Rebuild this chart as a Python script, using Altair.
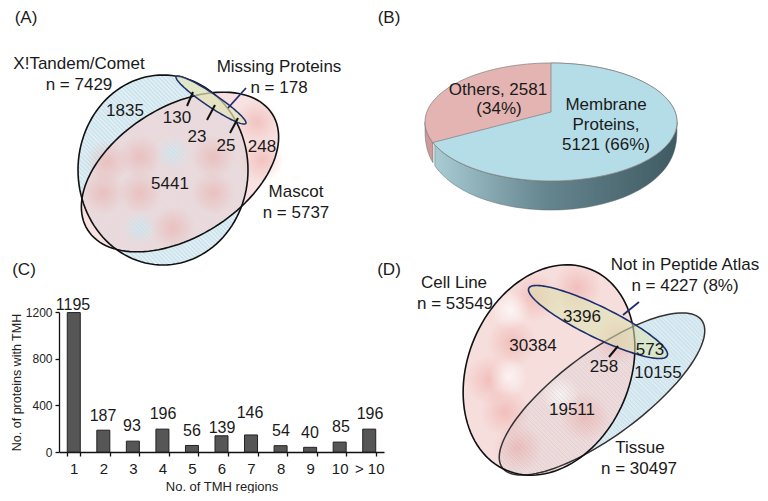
import numpy as np
import pandas as pd
import altair as alt

# ---- data -----
tmh_regions = ["1", "2", "3", "4", "5", "6", "7", "8", "9", "10", "> 10"]
tmh_counts = [1195, 187, 93, 196, 56, 139, 146, 54, 40, 85, 196]
tmh_label_y = [305, 416, 426, 414, 431, 428, 413, 431, 433, 427, 414]
tmh_label_x = [73, 103, 132, 163, 192, 222, 250, 281, 310, 341, 370]

big_text = ["(A)", "(B)", "(C)", "(D)",
            "X!Tandem/Comet", "n = 7429", "Missing Proteins", "n = 178",
            "Mascot", "n = 5737",
            "Cell Line", "n = 53549", "Not in Peptide Atlas", "n = 4227 (8%)",
            "Tissue", "n = 30497",
            "1835", "130", "23", "25", "248", "5441",
            "3396", "30384", "573", "258", "10155", "19511",
            "Others, 2581", "(34%)", "Membrane", "Proteins,", "5121 (66%)"]
big_x = [26, 389, 24, 389,
         79, 79, 279, 279, 296, 296,
         454, 455, 685, 685, 640, 639,
         125, 177, 197, 226, 262, 170,
         582, 533, 650, 604, 658, 572,
         498, 499, 606, 606, 606]
big_y = [18, 18, 270, 270,
         64, 85, 67, 88, 192, 213,
         283, 304, 265, 286, 448, 469,
         111, 118, 137, 146, 147, 184,
         317, 346, 350, 367, 373, 410,
         90, 109, 105, 125, 145]

# ---- geometry helpers -----
W, H = 752, 485


def sx():
    return alt.Scale(domain=[8, 760], range=[0, W])


def sy():
    return alt.Scale(domain=[8, 493], range=[0, H])


def ellipse(cx, cy, a, b, deg, n=120):
    t = np.linspace(0, 2 * np.pi, n, endpoint=False)
    r = np.radians(deg)
    x = cx + a * np.cos(t) * np.cos(r) - b * np.sin(t) * np.sin(r)
    y = cy + a * np.cos(t) * np.sin(r) + b * np.sin(t) * np.cos(r)
    return pd.DataFrame({"x": x, "y": y, "i": np.arange(n)})


def shape(df, fill=None, stroke=None, sw=1.5, fo=1.0, interp="linear-closed"):
    kw = dict(interpolate=interp, strokeWidth=sw, fillOpacity=fo)
    if fill is not None:
        kw["fill"] = fill
    kw["stroke"] = stroke if stroke is not None else "transparent"
    return alt.Chart(df).mark_line(**kw).encode(
        x=alt.X("x:Q", scale=sx(), axis=None),
        y=alt.Y("y:Q", scale=sy(), axis=None),
        order="i:Q",
    )


def hatch(cx, cy, a, b, deg, gap=3.0, color="#a9d0dc", sw=0.8, op=0.6):
    r = np.radians(deg)
    ca, sa = np.cos(r), np.sin(r)
    d = np.array([1, 1]) / np.sqrt(2)
    nrm = np.array([1, -1]) / np.sqrt(2)
    rows = []
    for c in np.arange(-max(a, b), max(a, b), gap):
        p = c * nrm
        pu, pv = p[0] * ca + p[1] * sa, -p[0] * sa + p[1] * ca
        du, dv = d[0] * ca + d[1] * sa, -d[0] * sa + d[1] * ca
        A = du**2 / a**2 + dv**2 / b**2
        B = 2 * (pu * du / a**2 + pv * dv / b**2)
        C = pu**2 / a**2 + pv**2 / b**2 - 1
        D = B**2 - 4 * A * C
        if D <= 0:
            continue
        t1, t2 = (-B - np.sqrt(D)) / (2 * A), (-B + np.sqrt(D)) / (2 * A)
        q1, q2 = p + t1 * d, p + t2 * d
        rows.append(dict(x=cx + q1[0], y=cy + q1[1], x2=cx + q2[0], y2=cy + q2[1]))
    return segs(rows, color, sw, op)


def segs(rows, color, sw, op=1.0):
    return alt.Chart(pd.DataFrame(rows)).mark_rule(
        color=color, strokeWidth=sw, opacity=op
    ).encode(
        x=alt.X("x:Q", scale=sx(), axis=None),
        y=alt.Y("y:Q", scale=sy(), axis=None),
        x2="x2:Q", y2="y2:Q",
    )


def blobs(pts, rgb, radius=20, peak=0.75):
    grad = alt.RadialGradient(
        gradient="radial",
        stops=[
            alt.GradientStop(offset=0, color=f"rgba({rgb},{peak})"),
            alt.GradientStop(offset=1, color=f"rgba({rgb},0)"),
        ],
    )
    df = pd.DataFrame(pts, columns=["x", "y"])
    return alt.Chart(df).mark_point(
        filled=True, fill=grad, opacity=1, size=float(np.pi * radius**2), shape="circle", strokeWidth=0
    ).encode(
        x=alt.X("x:Q", scale=sx(), axis=None),
        y=alt.Y("y:Q", scale=sy(), axis=None),
    )


def texts(labels, xs, ys, size, color="#1a1a1a"):
    df = pd.DataFrame({"t": labels, "x": xs, "y": ys})
    return alt.Chart(df).mark_text(
        font="Liberation Sans", fontSize=size, color=color, align="center", baseline="middle"
    ).encode(
        x=alt.X("x:Q", scale=sx(), axis=None),
        y=alt.Y("y:Q", scale=sy(), axis=None),
        text="t:N",
    )


layers = []

# ---- panel A -----
X_E = (163, 170, 85, 95, 0)
M_E = (180, 172, 109, 65, -32)
P_E = (211, 100, 42, 6.5, 34)
layers += [
    shape(ellipse(*X_E), fill="#c8e4ee"),
    hatch(*X_E, color="#ffffff", sw=1.2, op=0.85),
    shape(ellipse(*M_E), fill="#f4d6d5", fo=0.72),
    blobs([(107, 162), (140, 157), (213, 157), (103, 193), (140, 193), (213, 193),
           (173, 228), (257, 122), (262, 160)], "236,165,160", radius=25, peak=0.5),
    blobs([(173, 153), (140, 228)], "205,232,240", radius=20, peak=0.85),
    hatch(*X_E, color="#b9bfcc", op=0.35),
    shape(ellipse(*X_E), stroke="#111111", sw=1.6),
    shape(ellipse(*M_E), stroke="#111111", sw=1.6),
    shape(ellipse(*P_E), fill="#e4e6b6", fo=0.7, stroke="#1f2f6e", sw=1.5),
    segs([dict(x=228, y=108, x2=246, y2=88)], "#1f2f6e", 1.8),
    segs([dict(x=193, y=92, x2=187, y2=106), dict(x=215, y=105, x2=207, y2=120),
          dict(x=238, y=118, x2=230, y2=133)], "#111111", 2),
]

# ---- panel B -----
PC, PY, PA, PB, DEPTH = 551, 122, 126, 59, 29
t_all = np.linspace(0, 2 * np.pi, 160, endpoint=False)
pie_full = pd.DataFrame({"x": PC + PA * np.cos(t_all), "y": PY + PB * np.sin(t_all), "i": np.arange(160)})
xs_side = PC + PA * np.cos(np.linspace(np.pi, 0, 80))
side = pd.DataFrame({"x": xs_side, "y": PY + PB * np.sqrt(np.clip(1 - ((xs_side - PC) / PA) ** 2, 0, 1))})
side["y2"] = side["y"] + DEPTH * np.sqrt(np.clip(1 - ((side["x"] - PC) / PA) ** 2, 0, 1)) ** 0.35
split = 433.0
side_grad = alt.LinearGradient(
    gradient="linear", x1=0, x2=1, y1=0, y2=0,
    stops=[
        alt.GradientStop(offset=0, color="#a9ccd4"),
        alt.GradientStop(offset=0.45, color="#668690"),
        alt.GradientStop(offset=1, color="#3f5a62"),
    ],
)


def side_area(df, fill):
    return alt.Chart(df).mark_area(fill=fill, stroke="#59696d", strokeWidth=0.5).encode(
        x=alt.X("x:Q", scale=sx(), axis=None),
        y=alt.Y("y:Q", scale=sy(), axis=None),
        y2="y2:Q",
    )


t_end = np.pi - np.arctan2(20.5 / PB, 118 / PA)
t_w = np.linspace(-np.pi / 2, t_end, 90)
wedge = pd.DataFrame({"x": np.r_[PC, PC + PA * np.cos(t_w)], "y": np.r_[112, PY + PB * np.sin(t_w)]})
wedge["i"] = np.arange(len(wedge))
layers += [
    side_area(side[side.x <= split + 1], "#cf9a9a"),
    side_area(side[side.x >= split], side_grad),
    shape(pie_full, fill="#e3b4b2", stroke="#7d7d7d", sw=0.7),
    shape(wedge, fill="#b5dde7", stroke="#7d7d7d", sw=0.7),
]

# ---- panel D -----
C_E = (549, 370, 109, 81, 113)
T_E = (602, 394, 124, 42, -36.5)
N_E = (598, 322, 77, 15.5, 26)
layers += [
    shape(ellipse(*T_E), fill="#c8e4ee"),
    hatch(*T_E, color="#ffffff", sw=1.2, op=0.85),
    shape(ellipse(*C_E), fill="#f5d8d6", fo=0.85),
    blobs([(512, 343), (505, 412), (518, 448), (577, 288), (585, 417), (618, 340), (535, 297), (490, 380)],
          "236,160,155", radius=28, peak=0.5),
    blobs([(508, 377), (510, 310), (560, 395)], "255,255,255", radius=22, peak=0.7),
    hatch(*T_E, color="#a8b4c6", op=0.4),
    shape(ellipse(*T_E), stroke="#333333", sw=1.5),
    shape(ellipse(*C_E), stroke="#111111", sw=1.6),
    shape(ellipse(*N_E), fill="#dde4b0", fo=0.55, stroke="#1f2f6e", sw=1.6),
    segs([dict(x=623, y=315, x2=639, y2=302)], "#1f2f6e", 1.8),
    segs([dict(x=618, y=346, x2=609, y2=357)], "#111111", 2),
]

# ---- panel C : bars on their own scales -----
bars_df = pd.DataFrame({"r": tmh_regions, "v": tmh_counts})
x_band = alt.Scale(domain=tmh_regions, range=[51, 376], paddingInner=0.56, paddingOuter=0.28)
y_lin = alt.Scale(domain=[0, 1200], range=[444, 304], nice=False)
bars = alt.Chart(bars_df).mark_bar(color="#565656", stroke="#222222", strokeWidth=1).encode(
    x=alt.X("r:N", scale=x_band, sort=None, axis=alt.Axis(
        title="No. of TMH regions", titleFont="Liberation Sans", titleFontSize=13, titleFontWeight="normal",
        titleColor="#222222", titlePadding=4,
        labelFont="Liberation Sans", labelFontSize=15, labelColor="#1a1a1a", labelAngle=0, labelPadding=5,
        tickBand="extent", tickColor="#111111", tickSize=4, tickWidth=1.3,
        domainColor="#111111", domainWidth=1.3, grid=False, offset=-41)),
    y=alt.Y("v:Q", scale=y_lin, axis=alt.Axis(
        values=[0, 400, 800, 1200], format="d", title="No. of proteins with TMH",
        titleFont="Liberation Sans", titleFontSize=12.5, titleFontWeight="normal", titleColor="#222222",
        titlePadding=2,
        labelFont="Liberation Sans", labelFontSize=12, labelColor="#222222", labelPadding=3,
        tickColor="#111111", tickSize=4, tickWidth=1.3,
        domainColor="#111111", domainWidth=1.3, grid=False, offset=-51)),
)
layers.append(bars)

layers.append(texts(big_text, big_x, big_y, 17))
layers.append(texts([str(v) for v in tmh_counts], tmh_label_x, tmh_label_y, 16))

chart = alt.layer(*layers).resolve_scale(x="independent", y="independent").properties(
    width=W, height=H, padding=0,
    autosize=alt.AutoSizeParams(type="none"),
    background="white",
).configure_view(stroke=None)

chart.save("out.html", embed_options={"renderer": "svg", "actions": False})
